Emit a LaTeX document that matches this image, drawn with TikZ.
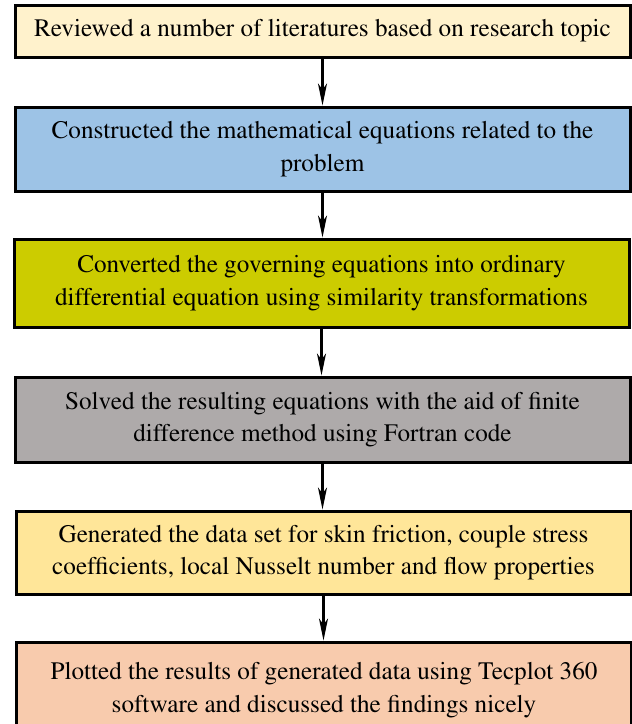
\documentclass[tikz,border=0pt]{standalone}
\usepackage[T1]{fontenc}
\usepackage{times}
\usetikzlibrary{arrows.meta}

% box fills
\definecolor{reviewfill}{HTML}{FFF2CC}
\definecolor{modelfill}{HTML}{9DC3E6}
\definecolor{odefill}{HTML}{CCCC00}
\definecolor{solvefill}{HTML}{AEAAAA}
\definecolor{datafill}{HTML}{FFE699}
\definecolor{plotfill}{HTML}{F8CBAD}

\tikzset{
  stage/.style={draw=black,line width=1.5pt,align=center,inner sep=0pt,
    minimum width=307.5pt,font=\fontsize{12.6}{16.2}\selectfont},
  flow/.style={line width=1.1pt,-{Stealth[length=11pt,width=4.5pt,inset=3pt]}}
}

\begin{document}
\begin{tikzpicture}[x=0.5pt,y=-0.5pt]
\clip (0,0) rectangle (632,724);
\node[stage,fill=reviewfill,minimum height=26pt] (review) at (322.5,31)
  {Reviewed a number of literatures based on research topic};
\node[stage,fill=modelfill,minimum height=42pt] (model) at (322.5,149)
  {Constructed the mathematical equations related to the\\problem};
\node[stage,fill=odefill,minimum height=44pt] (ode) at (321.5,283)
  {Converted the governing equations into ordinary\\differential equation using similarity transformations};
\node[stage,fill=solvefill,minimum height=42.5pt] (solve) at (322.5,419.5)
  {Solved the resulting equations with the aid of finite\\difference method using Fortran code};
\node[stage,fill=datafill,minimum height=41.5pt] (data) at (323.5,552.5)
  {Generated the data set for skin friction, couple stress\\coefficients, local Nusselt number and flow properties};
\node[stage,fill=plotfill,minimum height=48pt] (plot) at (324,690)
  {Plotted the results of generated data using Tecplot 360\\software and discussed the findings nicely};

% arrows between the stages
\draw[flow] (review.south) -- (review.south |- model.north);
\draw[flow] (model.south) -- (model.south |- ode.north);
\draw[flow] (ode.south) -- (ode.south |- solve.north);
\draw[flow] (solve.south) -- (solve.south |- data.north);
\draw[flow] (data.south) -- (data.south |- plot.north);
\end{tikzpicture}
\end{document}
